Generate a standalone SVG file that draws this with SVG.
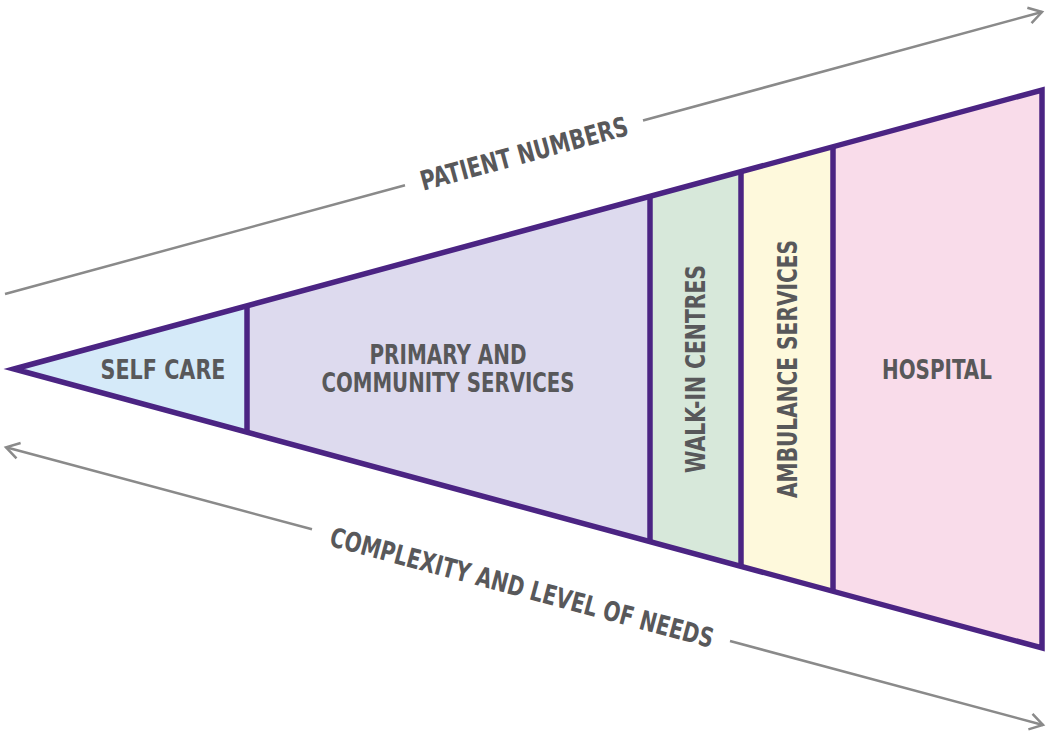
<svg xmlns="http://www.w3.org/2000/svg" width="1048" height="738" viewBox="0 0 1048 738">
<defs>
<style>
.seg{stroke:none}
.lbl{font-family:'DejaVu Sans Condensed','DejaVu Sans',sans-serif;font-stretch:condensed;font-weight:bold;font-size:27px;fill:#58585a;text-anchor:middle}
.div{stroke:#4b2483;stroke-width:5.5;fill:none}
.ax{stroke:#8a8a8a;stroke-width:2.5;fill:none}
</style>
<marker id="ah" viewBox="-16 -10 20 20" markerWidth="20" markerHeight="20" refX="0" refY="0" orient="auto" markerUnits="userSpaceOnUse">
<path d="M-13,-8 L0,0 L-13,8" fill="none" stroke="#8a8a8a" stroke-width="2.5"/>
</marker>
</defs>
<rect width="1048" height="738" fill="#ffffff"/>
<g id="self-care">
<polygon class="seg" fill="#d5eaf9" points="14,369 247,305.8 247,432.2"/>
<text class="lbl" x="163" y="378.5" textLength="125" lengthAdjust="spacingAndGlyphs">SELF CARE</text>
</g>
<g id="primary-community">
<polygon class="seg" fill="#dddaee" points="247,305.8 650,196.4 650,541.6 247,432.2"/>
<text class="lbl" x="448" y="363.5" textLength="157" lengthAdjust="spacingAndGlyphs">PRIMARY AND</text>
<text class="lbl" x="448" y="391.5" textLength="253" lengthAdjust="spacingAndGlyphs">COMMUNITY SERVICES</text>
</g>
<g id="walk-in">
<polygon class="seg" fill="#d7e8da" points="650,196.4 741,171.7 741,566.3 650,541.6"/>
<text class="lbl" transform="translate(705,369) rotate(-90)" x="0" y="0" textLength="208" lengthAdjust="spacingAndGlyphs">WALK-IN CENTRES</text>
</g>
<g id="ambulance">
<polygon class="seg" fill="#fef9dc" points="741,171.7 833,146.7 833,591.3 741,566.3"/>
<text class="lbl" transform="translate(797,369) rotate(-90)" x="0" y="0" textLength="258" lengthAdjust="spacingAndGlyphs">AMBULANCE SERVICES</text>
</g>
<g id="hospital">
<polygon class="seg" fill="#f9dcea" points="833,146.7 1042,90 1042,648 833,591.3"/>
<text class="lbl" x="937" y="378.5" textLength="110" lengthAdjust="spacingAndGlyphs">HOSPITAL</text>
</g>
<g id="outline">
<line class="div" x1="247" y1="305.8" x2="247" y2="432.2"/>
<line class="div" x1="650" y1="196.4" x2="650" y2="541.6"/>
<line class="div" x1="741" y1="171.7" x2="741" y2="566.3"/>
<line class="div" x1="833" y1="146.7" x2="833" y2="591.3"/>
<polygon points="14,369 1042,90 1042,648" fill="none" stroke="#4b2483" stroke-width="5.5" stroke-linejoin="miter" stroke-miterlimit="10"/>
</g>
<g id="connectors">
<line class="ax" x1="5" y1="294" x2="405" y2="185.2"/>
<line class="ax" x1="643" y1="120.5" x2="1042" y2="12" marker-end="url(#ah)"/>
<line class="ax" x1="312" y1="529.2" x2="6" y2="447.3" marker-end="url(#ah)"/>
<line class="ax" x1="730" y1="641" x2="1043" y2="725" marker-end="url(#ah)"/>
</g>
<g id="axis-labels">
<text class="lbl" transform="translate(524,153) rotate(-15.2)" x="0" y="10" textLength="214" lengthAdjust="spacingAndGlyphs">PATIENT NUMBERS</text>
<text class="lbl" transform="translate(522,587) rotate(15)" x="0" y="10" textLength="396" lengthAdjust="spacingAndGlyphs">COMPLEXITY AND LEVEL OF NEEDS</text>
</g>
</svg>
